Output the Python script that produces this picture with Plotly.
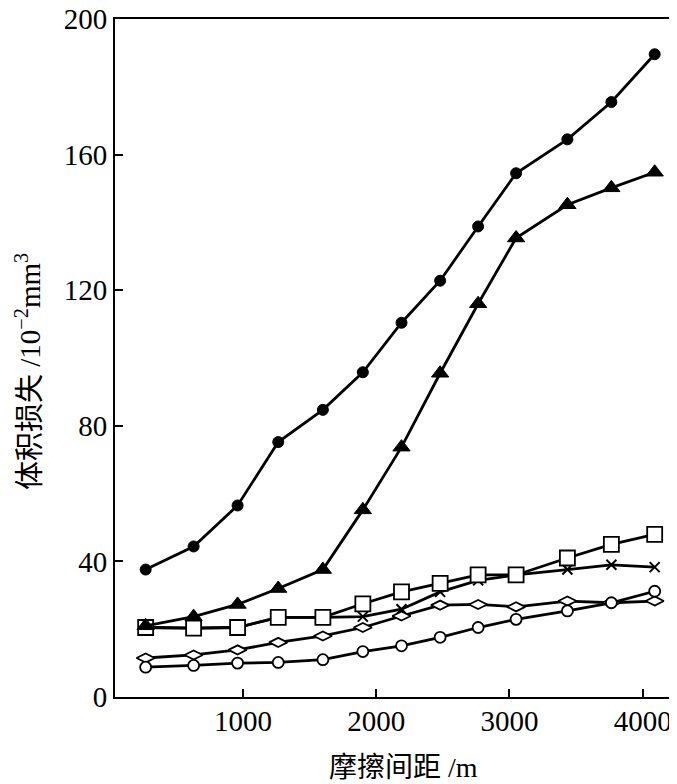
import plotly.graph_objects as go

# friction distance (m), same sampling for every curve
distance = [270, 630, 960, 1265, 1600, 1900, 2190, 2480, 2765, 3050, 3435, 3765, 4090]

# volume loss (10^-2 mm^3)
loss_dot = [37.6, 44.4, 56.5, 75.2, 84.7, 95.8, 110.4, 122.8, 138.8, 154.5, 164.5, 175.5, 189.6]
loss_tri = [21.0, 23.7, 27.3, 32.0, 37.6, 55.2, 73.7, 95.5, 116.0, 135.4, 145.2, 150.2, 154.8]
loss_sq = [20.5, 20.3, 20.5, 23.5, 23.5, 27.5, 31.0, 33.5, 36.0, 36.0, 41.0, 45.0, 48.0]
loss_x = [20.5, 20.3, 20.5, 23.5, 23.5, 23.7, 25.9, 31.0, 34.4, 36.0, 37.6, 39.0, 38.3]
loss_dia = [11.5, 12.4, 13.9, 16.1, 18.0, 20.5, 23.9, 27.1, 27.3, 26.6, 28.3, 27.8, 28.3]
loss_ring = [8.8, 9.3, 10.0, 10.2, 11.0, 13.4, 15.1, 17.6, 20.5, 22.9, 25.4, 27.8, 31.2]

x_ticks = [1000, 2000, 3000, 4000]
y_ticks = [0, 40, 80, 120, 160, 200]

FONT = "Liberation Serif, Times New Roman, Noto Sans CJK SC, serif"


def curve(y, symbol, size, fill, lw=2.8, mlw=1.8):
    return go.Scatter(
        x=distance, y=y, mode="lines+markers",
        line=dict(color="black", width=lw),
        marker=dict(symbol=symbol, size=size, color=fill,
                    line=dict(color="black", width=mlw)),
        showlegend=False, cliponaxis=False,
    )


fig = go.Figure()
fig.add_trace(curve(loss_x, "x-thin-open", 10, "black", mlw=2))
fig.add_trace(curve(loss_dia, "diamond-wide", 13, "white"))
fig.add_trace(curve(loss_ring, "circle", 11, "white"))
fig.add_trace(curve(loss_sq, "square", 15, "white"))
fig.add_trace(curve(loss_tri, "triangle-up", 15, "black", mlw=1))
fig.add_trace(curve(loss_dot, "circle", 11, "black", mlw=1))

# the page body has an 8px margin, so the figure is a bit smaller than the window
fig.update_layout(
    width=669, height=776,
    margin=dict(l=107, r=5, t=11, b=87),
    paper_bgcolor="white", plot_bgcolor="white",
    font=dict(family=FONT, size=29, color="black"),
)
fig.update_xaxes(
    range=[40, 4220], tickvals=x_ticks, ticks="inside", ticklen=8, tickwidth=2,
    tickcolor="black", showline=True, linewidth=2, linecolor="black", mirror=True,
    showgrid=False, zeroline=False, tickfont=dict(size=29),
    automargin=False, ticklabeloverflow="allow", ticklabelstandoff=-3,
)
fig.update_yaxes(
    range=[0, 200], tickvals=y_ticks, ticks="inside", ticklen=8, tickwidth=2,
    tickcolor="black", showline=True, linewidth=2, linecolor="black", mirror=True,
    showgrid=False, zeroline=False, tickfont=dict(size=29),
    automargin=False, ticklabeloverflow="allow",
)

fig.add_annotation(
    text="摩擦间距 /m", xref="paper", yref="paper", x=0.5, y=0,
    xanchor="center", yanchor="middle", xshift=10, yshift=-70,
    showarrow=False, font=dict(size=28),
)
fig.add_annotation(
    text="体积损失 /10<sup>−2</sup>mm<sup>3</sup>", xref="paper", yref="paper",
    x=0, y=0.5, xanchor="center", yanchor="middle", xshift=-87, yshift=-14,
    textangle=-90, showarrow=False, font=dict(size=29),
)

fig.write_html("out.html")
